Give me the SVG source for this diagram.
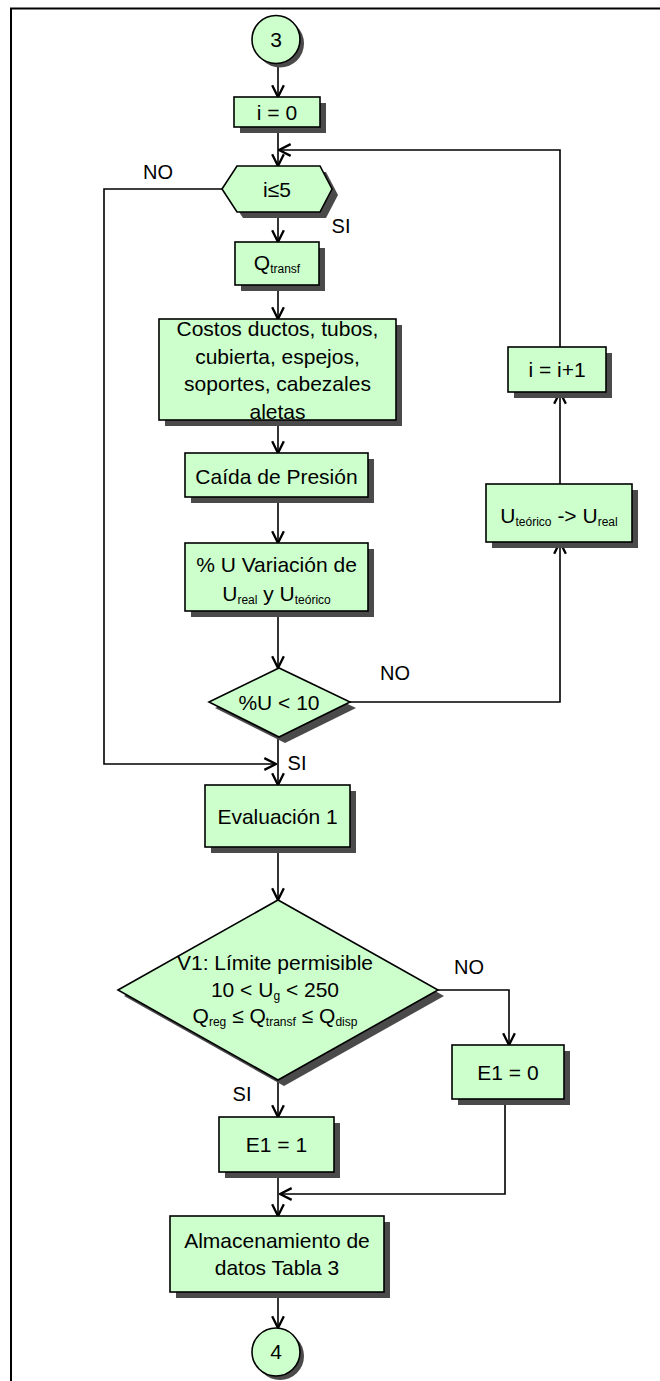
<svg xmlns="http://www.w3.org/2000/svg" width="660" height="1381" viewBox="0 0 660 1381">
<defs>
<style>
.box{fill:#ccffcc;stroke:#000;stroke-width:1.6}
.sh{fill:#4a4a4a;stroke:none}
.ln{fill:none;stroke:#000;stroke-width:1.6}
text{font-family:"Liberation Sans",Arial,sans-serif;font-size:21px;fill:#000;text-anchor:middle}
.lbl{font-size:20px}
.sub{font-size:12px}
</style>
<marker id="ah" markerUnits="userSpaceOnUse" markerWidth="14" markerHeight="14" viewBox="0 0 12 12" refX="11" refY="6" orient="auto">
<path d="M1,1 L11,6 L1,11" fill="none" stroke="#000" stroke-width="2"/>
</marker>
</defs>
<rect width="660" height="1381" fill="#fff"/>
<g id="frame"><path d="M11,1381 V8.5 H660" fill="none" stroke="#000" stroke-width="2"/></g>

<g id="connectors">
<path class="ln" d="M278,63.5 V97" marker-end="url(#ah)"/>
<path class="ln" d="M278,127 V166" marker-end="url(#ah)"/>
<path class="ln" d="M278,212 V242" marker-end="url(#ah)"/>
<path class="ln" d="M278,285 V319" marker-end="url(#ah)"/>
<path class="ln" d="M278,420 V453" marker-end="url(#ah)"/>
<path class="ln" d="M278,497 V543" marker-end="url(#ah)"/>
<path class="ln" d="M278,611 V668" marker-end="url(#ah)"/>
<path class="ln" d="M278,737 V785" marker-end="url(#ah)"/>
<path class="ln" d="M278,847 V900" marker-end="url(#ah)"/>
<path class="ln" d="M278,1080 V1117" marker-end="url(#ah)"/>
<path class="ln" d="M278,1172 V1216" marker-end="url(#ah)"/>
<path class="ln" d="M278,1292 V1328" marker-end="url(#ah)"/>
<path class="ln" d="M350,702 H560 V542" marker-end="url(#ah)"/>
<path class="ln" d="M560,484 V392" marker-end="url(#ah)"/>
<path class="ln" d="M560,347 V150 H279" marker-end="url(#ah)"/>
<path class="ln" d="M222,189 H104 V764 H276" marker-end="url(#ah)"/>
<path class="ln" d="M438,990 H509 V1045" marker-end="url(#ah)"/>
<path class="ln" d="M505,1099 V1194 H280" marker-end="url(#ah)"/>
</g>

<g id="labels">
<text class="lbl" x="158" y="179">NO</text>
<text class="lbl" x="341" y="233">SI</text>
<text class="lbl" x="395" y="680">NO</text>
<text class="lbl" x="297" y="770">SI</text>
<text class="lbl" x="469" y="974">NO</text>
<text class="lbl" x="242" y="1101">SI</text>
</g>

<g id="start3">
<circle class="sh" cx="280" cy="43.5" r="24"/>
<circle class="box" cx="276" cy="39.5" r="24"/>
<text x="276" y="47">3</text>
</g>

<g id="i0">
<rect class="sh" x="240" y="103" width="86" height="30"/>
<rect class="box" x="234" y="97" width="86" height="30"/>
<text x="277" y="119.5">i = 0</text>
</g>

<g id="cond_i">
<polygon class="sh" points="228,195 243,172 326,172 338,195 326,218 243,218"/>
<polygon class="box" points="222,189 237,166 320,166 332,189 320,212 237,212"/>
<text x="277" y="197">i≤5</text>
</g>

<g id="qtransf">
<rect class="sh" x="241" y="248" width="84" height="43"/>
<rect class="box" x="235" y="242" width="84" height="43"/>
<text x="277" y="270">Q<tspan class="sub" dy="3">transf</tspan></text>
</g>

<g id="costos">
<rect class="sh" x="165" y="325" width="237" height="101"/>
<rect class="box" x="159" y="319" width="237" height="101"/>
<text x="277.5" y="336">Costos ductos, tubos,</text>
<text x="277.5" y="363.5">cubierta, espejos,</text>
<text x="277.5" y="391">soportes, cabezales</text>
<text x="277.5" y="419">aletas</text>
</g>

<g id="caida">
<rect class="sh" x="191" y="459" width="183" height="44"/>
<rect class="box" x="185" y="453" width="183" height="44"/>
<text x="276.5" y="484">Caída de Presión</text>
</g>

<g id="variacion">
<rect class="sh" x="191" y="549" width="183" height="68"/>
<rect class="box" x="185" y="543" width="183" height="68"/>
<text x="276.5" y="572">% U Variación de</text>
<text x="276.5" y="601">U<tspan class="sub" dy="3">real</tspan><tspan dy="-3"> y U</tspan><tspan class="sub" dy="3">teórico</tspan></text>
</g>

<g id="cond_u">
<polygon class="sh" points="215,708 285,674 356,708 285,743"/>
<polygon class="box" points="209,702 279,668 350,702 279,737"/>
<text x="279" y="710">%U &lt; 10</text>
</g>

<g id="ureal">
<rect class="sh" x="492" y="490" width="146" height="58"/>
<rect class="box" x="486" y="484" width="146" height="58"/>
<text x="559" y="523">U<tspan class="sub" dy="3">teórico</tspan><tspan dy="-3"> -&gt; U</tspan><tspan class="sub" dy="3">real</tspan></text>
</g>

<g id="inc">
<rect class="sh" x="514" y="353" width="98" height="45"/>
<rect class="box" x="508" y="347" width="98" height="45"/>
<text x="557" y="377">i = i+1</text>
</g>

<g id="eval1">
<rect class="sh" x="211" y="791" width="145" height="62"/>
<rect class="box" x="205" y="785" width="145" height="62"/>
<text x="277.5" y="824">Evaluación 1</text>
</g>

<g id="cond_v1">
<polygon class="sh" points="124,996 284,906 444,996 284,1086"/>
<polygon class="box" points="118,990 278,900 438,990 278,1080"/>
<text x="275" y="970">V1: Límite permisible</text>
<text x="275" y="997">10 &lt; U<tspan class="sub" dy="3">g</tspan><tspan dy="-3"> &lt; 250</tspan></text>
<text x="275" y="1023">Q<tspan class="sub" dy="3">reg</tspan><tspan dy="-3"> ≤ Q</tspan><tspan class="sub" dy="3">transf</tspan><tspan dy="-3"> ≤ Q</tspan><tspan class="sub" dy="3">disp</tspan></text>
</g>

<g id="e10">
<rect class="sh" x="458" y="1051" width="112" height="54"/>
<rect class="box" x="452" y="1045" width="112" height="54"/>
<text x="508" y="1080">E1 = 0</text>
</g>

<g id="e11">
<rect class="sh" x="225" y="1123" width="115" height="55"/>
<rect class="box" x="219" y="1117" width="115" height="55"/>
<text x="276.5" y="1152">E1 = 1</text>
</g>

<g id="almacen">
<rect class="sh" x="176" y="1222" width="214" height="76"/>
<rect class="box" x="170" y="1216" width="214" height="76"/>
<text x="277" y="1248">Almacenamiento de</text>
<text x="277" y="1275">datos Tabla 3</text>
</g>

<g id="end4">
<circle class="sh" cx="280" cy="1356" r="24"/>
<circle class="box" cx="276" cy="1352" r="24"/>
<text x="276" y="1359">4</text>
</g>
</svg>
